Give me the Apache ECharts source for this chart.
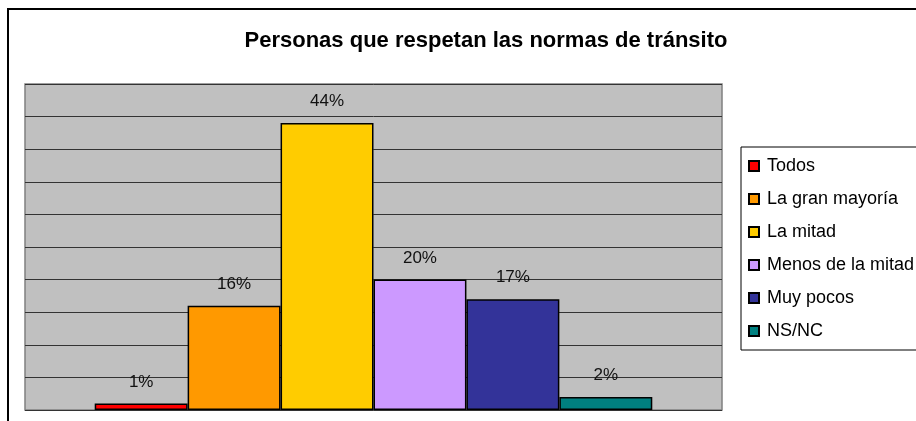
<!DOCTYPE html>
<html>
<head>
<meta charset="utf-8">
<title>Personas que respetan las normas de tránsito</title>
<script src="https://cdn.jsdelivr.net/npm/echarts@6/dist/echarts.min.js"></script>
<style>
    html, body { margin: 0; padding: 0; background: #fff; }
    #chart { width: 916px; height: 421px; }
</style>
</head>
<body>
<div id="chart"></div>
<script>
// datos del grafico
var categorias = ['Todos', 'La gran mayoría', 'La mitad', 'Menos de la mitad', 'Muy pocos', 'NS/NC'];
var valores = [1, 16, 44, 20, 17, 2];
var colores = ['#ff0000', '#ff9900', '#ffcc00', '#cc99ff', '#333399', '#008080'];
var ejeMax = 50;
var ejeIntervalo = 5;

var fuente = '"Liberation Sans", Arial, sans-serif';

var series = [];
for (var i = 0; i < categorias.length; i++) {
    series.push({
        name: categorias[i],
        type: 'bar',
        barGap: '0%',
        barCategoryGap: '20%',
        data: [valores[i]],
        itemStyle: { color: colores[i], borderColor: '#000', borderWidth: 1.5 },
        label: {
            show: true,
            position: 'top',
            distance: 13,
            formatter: '{c}%',
            fontFamily: fuente,
            fontSize: 17,
            color: '#111'
        }
    });
}

var option = {
    animation: false,
    backgroundColor: '#fff',
    title: {
        text: 'Personas que respetan las normas de tránsito',
        left: 481,
        textAlign: 'center',
        top: 25,
        textStyle: { fontFamily: fuente, fontSize: 22, fontWeight: 'bold', color: '#000' }
    },
    graphic: [{
        type: 'rect',
        shape: { x: 8, y: 9, width: 1000, height: 1000 },
        style: { fill: 'none', stroke: '#000', lineWidth: 2 },
        silent: true
    }],
    legend: {
        orient: 'vertical',
        left: 741,
        top: 147,
        padding: [10, 60, 10, 7],
        itemGap: 15,
        itemWidth: 10,
        itemHeight: 10,
        icon: 'rect',
        borderColor: '#000',
        borderWidth: 1,
        backgroundColor: '#fff',
        textStyle: { fontFamily: fuente, fontSize: 18, lineHeight: 18, color: '#000', padding: [0, 0, 0, 3] },
        data: categorias
    },
    grid: {
        left: 25,
        top: 84,
        right: 194,
        bottom: 11,
        show: true,
        backgroundColor: '#c0c0c0',
        borderColor: '#808080',
        borderWidth: 1.5
    },
    xAxis: {
        type: 'category',
        data: [''],
        axisLine: { show: false },
        axisTick: { show: false },
        axisLabel: { show: false }
    },
    yAxis: {
        type: 'value',
        min: 0,
        max: ejeMax,
        interval: ejeIntervalo,
        axisLine: { show: false },
        axisTick: { show: false },
        axisLabel: { show: false },
        splitLine: { lineStyle: { color: '#333', width: 1 } }
    },
    series: series
};

var myChart = echarts.init(document.getElementById('chart'));
myChart.setOption(option);
</script>
</body>
</html>
